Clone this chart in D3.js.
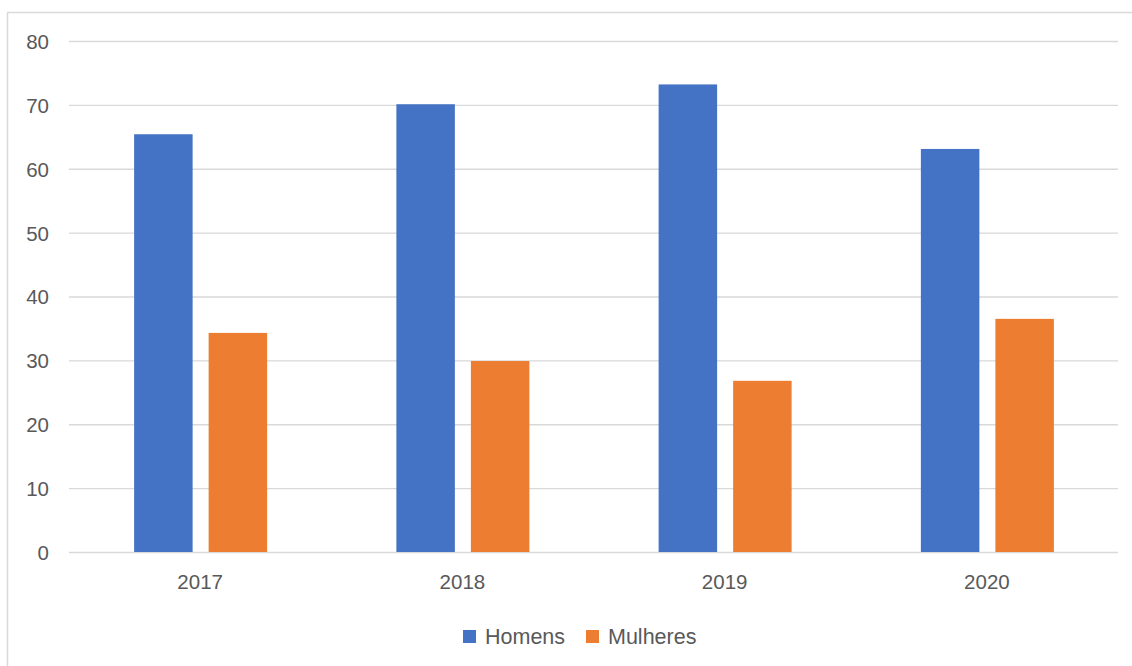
<!DOCTYPE html>
<html>
<head>
<meta charset="utf-8">
<script src="https://cdn.jsdelivr.net/npm/d3@7"></script>
<style>
  html, body { margin: 0; padding: 0; background: #fff; }
  svg text { font-family: "Liberation Sans", Arial, sans-serif; fill: #595959; }
</style>
</head>
<body>
<svg id="chart" width="1132" height="666"></svg>
<script>
// data
const years = ["2017", "2018", "2019", "2020"];
const series = ["Homens", "Mulheres"];
const homens = [65.4, 70.1, 73.2, 63.1];
const mulheres = [34.3, 29.9, 26.8, 36.5];
const yTicks = [0, 10, 20, 30, 40, 50, 60, 70, 80];
const colors = ["#4472C4", "#ED7D31"];

const svg = d3.select("#chart");
const plot = { left: 69, right: 1118, top: 41, bottom: 552 };

// outer chart frame (runs off the right/bottom edge in the reference)
svg.append("rect")
  .attr("x", 7.5).attr("y", 12.5)
  .attr("width", 1140).attr("height", 670)
  .attr("fill", "none").attr("stroke", "#d9d9d9").attr("stroke-width", 1.5);

const x0 = d3.scaleBand().domain(years).range([plot.left, plot.right]);
const x1 = d3.scaleBand().domain(series).range([-66, 67]).paddingInner(0.215);
const y = d3.scaleLinear().domain([0, 80]).range([plot.bottom, plot.top]);
const color = d3.scaleOrdinal().domain(series).range(colors);

// gridlines + y labels
const yAxis = svg.append("g")
  .attr("transform", `translate(${plot.left},0)`)
  .call(d3.axisLeft(y).tickValues(yTicks).tickSize(-(plot.right - plot.left)).tickPadding(20));
yAxis.select(".domain").remove();
yAxis.selectAll(".tick line").attr("stroke", "#d9d9d9").attr("stroke-width", 1.3);
yAxis.selectAll(".tick text").attr("font-size", 20.5).attr("dy", "0.36em");

// x labels
const xAxis = svg.append("g")
  .attr("transform", `translate(0,${plot.bottom})`)
  .call(d3.axisBottom(x0).tickSize(0).tickPadding(22));
xAxis.select(".domain").remove();
xAxis.selectAll(".tick text").attr("font-size", 20.5).attr("dy", "0.71em");

// bars
const rows = years.map((yr, i) => ({ year: yr, values: [homens[i], mulheres[i]] }));
const groups = svg.append("g").selectAll("g")
  .data(rows)
  .join("g")
  .attr("transform", d => `translate(${x0(d.year) + x0.bandwidth() / 2},0)`);

groups.selectAll("rect")
  .data(d => series.map((s, j) => ({ key: s, value: d.values[j] })))
  .join("rect")
  .attr("x", d => x1(d.key))
  .attr("width", x1.bandwidth())
  .attr("y", d => y(d.value))
  .attr("height", d => y(0) - y(d.value))
  .attr("fill", d => color(d.key));

// legend
const legend = svg.append("g").attr("transform", "translate(463,630)");
const legendX = [0, 123];
series.forEach((s, i) => {
  const g = legend.append("g").attr("transform", `translate(${legendX[i]},0)`);
  g.append("rect").attr("width", 13).attr("height", 13).attr("fill", color(s));
  g.append("text").attr("x", 22).attr("y", 13.5).attr("font-size", 21.5).text(s);
});
</script>
</body>
</html>
